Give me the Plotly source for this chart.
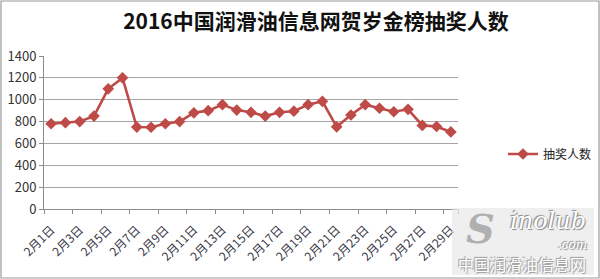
import plotly.graph_objects as go

days = [f"2月{d}日" for d in range(1, 30)]
values = [780, 790, 800, 850, 1100, 1200, 750, 748, 780, 800, 880, 900, 955, 905,
          885, 850, 885, 895, 955, 985, 752, 860, 955, 922, 890, 912, 765, 755, 705]
series_name = "抽奖人数"
title = "2016中国润滑油信息网贺岁金榜抽奖人数"

L, R, T, B = 44, 142, 56, 70
PW, PH = 600 - L - R, 279 - T - B

def px(x):
    return (x - L) / PW

def py(y):
    return (279 - B - y) / PH

xi = list(range(len(days)))
fig = go.Figure()
fig.add_trace(go.Scatter(
    x=xi, y=values, name=series_name, mode="lines+markers",
    line=dict(color="#BE4B48", width=2.6),
    marker=dict(symbol="diamond", size=9, color="#BE4B48"),
))

font = "Noto Sans CJK SC, Microsoft YaHei, sans-serif"
fig.update_layout(
    width=600, height=279,
    margin=dict(l=L, r=R, t=T, b=B, autoexpand=False),
    paper_bgcolor="white", plot_bgcolor="white",
    font=dict(family=font, color="#333333"),
    title=dict(text=f"<b>{title}</b>", x=px(262), xanchor="center", y=1 - 22 / 279,
               yanchor="middle", font=dict(size=21, color="#111111", family=font)),
    showlegend=True,
    legend=dict(x=px(503), xanchor="left", y=py(154), yanchor="middle",
                font=dict(size=12, color="#222222"), bgcolor="rgba(0,0,0,0)",
                itemwidth=30),
    xaxis=dict(
        range=[-0.5, len(days) - 0.5],
        tickvals=xi[::2], ticktext=days[::2], tickangle=-45,
        ticks="", showgrid=False, zeroline=False, ticklabelstandoff=8,
        showline=True, linecolor="#8c8c8c", linewidth=1,
        tickfont=dict(size=12, color="#3a3a48"),
        minor=dict(tickvals=[v - 0.5 for v in xi[::2]] + [len(days) - 0.5],
                   ticks="outside", ticklen=4, tickcolor="#8c8c8c", showgrid=False),
    ),
    yaxis=dict(
        range=[0, 1400], dtick=200, showgrid=True, gridcolor="#a6a6a6", gridwidth=1,
        zeroline=False, showline=True, linecolor="#8c8c8c", linewidth=1,
        ticks="outside", ticklen=4, tickcolor="#8c8c8c",
        tickfont=dict(size=13, color="#333333"),
    ),
)

# outer border
fig.add_shape(type="rect", xref="paper", yref="paper",
              x0=px(1), x1=px(599), y0=py(278), y1=py(1),
              line=dict(color="#9a9a9a", width=1.2), layer="above")

# watermark
fig.add_shape(type="rect", xref="paper", yref="paper",
              x0=px(452), x1=px(594), y0=py(275), y1=py(208),
              line=dict(width=0), fillcolor="rgba(232,232,232,0.7)", layer="above")
fig.add_annotation(xref="paper", yref="paper", x=px(480), y=py(228), xanchor="center",
                   yanchor="middle", text="<b><i>S</i></b>", showarrow=False,
                   font=dict(size=40, color="#b0b0b0", family="DejaVu Serif"))
fig.add_annotation(xref="paper", yref="paper", x=px(548), y=py(221), xanchor="center",
                   yanchor="middle", text="<i>inolub</i>", showarrow=False,
                   font=dict(size=24, color="white", family="DejaVu Serif",
                             shadow="1px 1px 1px #888, -1px -1px 1px #888"))
fig.add_annotation(xref="paper", yref="paper", x=px(589), y=py(245), xanchor="right",
                   yanchor="middle", text="<i>.com</i>", showarrow=False,
                   font=dict(size=12, color="white", family="DejaVu Serif",
                             shadow="1px 1px 1px #888, -1px -1px 1px #888"))
fig.add_annotation(xref="paper", yref="paper", x=px(522), y=py(264), xanchor="center",
                   yanchor="middle", text="中国润滑油信息网", showarrow=False,
                   font=dict(size=16, color="white", family=font,
                             shadow="1px 1px 1px #999, -1px -1px 1px #999"))

fig.write_html("out.html")
